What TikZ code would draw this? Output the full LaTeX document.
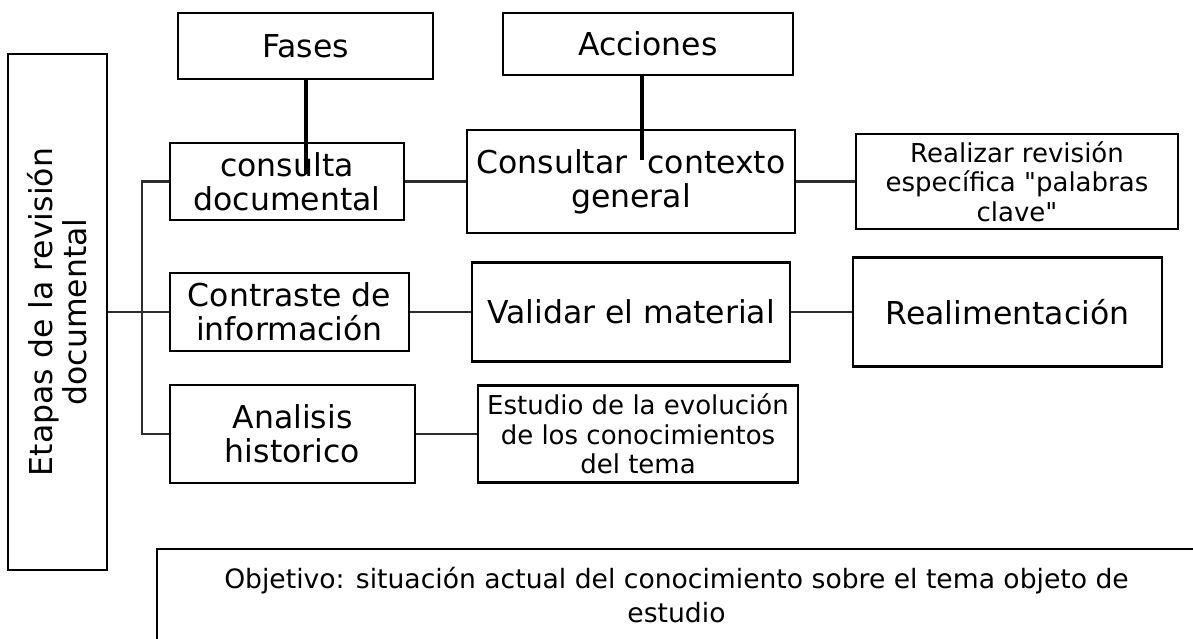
\documentclass[tikz,border=0pt]{standalone}
\usepackage{fontspec}
\setmainfont{DejaVu Sans}
\usepackage{tikz}
\usetikzlibrary{positioning}
\definecolor{BoxBlack}{RGB}{0, 0, 0}
\definecolor{LinkGray}{RGB}{45, 45, 45}

\begin{document}
\begin{tikzpicture}[x=1pt, y=-1pt,
    mainbox/.style={rectangle, draw=BoxBlack, line width=2.6pt, align=center, inner sep=2pt, font=\fontsize{31.5}{34}\selectfont},
    smallbox/.style={mainbox, font=\fontsize{26}{29.5}\selectfont},
    link/.style={draw=LinkGray, line width=2.2pt},
    stem/.style={draw=BoxBlack, line width=4pt}
]
\useasboundingbox (0,0) rectangle (1193,638);
\clip (0,0) rectangle (1193,638);

% Stages
\node[mainbox, rotate=90, minimum width=516pt, minimum height=99pt] (etapas) at (57.5,312) {Etapas de la revisi\'on\\documental};

% Headers
\node[mainbox, minimum width=255pt, minimum height=66pt] (fases) at (305.5,46) {Fases};
\node[mainbox, minimum width=290pt, minimum height=62pt] (acciones) at (648,44) {Acciones};

% Phases
\node[mainbox, minimum width=234pt, minimum height=77pt] (consulta) at (287,181.5) {consulta\\documental};
\node[mainbox, minimum width=239pt, minimum height=78pt] (contraste) at (289.5,312) {Contraste de\\informaci\'on};
\node[mainbox, minimum width=245pt, minimum height=98pt] (analisis) at (292.5,434) {Analisis\\historico};

% Actions
\node[mainbox, minimum width=328pt, minimum height=103pt] (consultar) at (631,181.5) {Consultar~~contexto\\general};
\node[smallbox, minimum width=322pt, minimum height=95pt] (realizar) at (1017,181.5) {Realizar revisi\'on\\espec\'ifica \textquotedbl palabras\\clave\textquotedbl};
\node[mainbox, minimum width=318pt, minimum height=99pt] (validar) at (631,312) {Validar el material};
\node[mainbox, minimum width=309pt, minimum height=109pt] (realim) at (1007.5,312) {Realimentaci\'on};
\node[smallbox, minimum width=320pt, minimum height=97pt] (estudio) at (638,434) {Estudio de la evoluci\'on\\de los conocimientos\\del tema};

% Goal
\node[mainbox, font=\fontsize{26.6}{34}\selectfont, minimum width=1039pt, minimum height=92pt] (objetivo) at (676.5,595) {Objetivo: situaci\'on actual del conocimiento sobre el tema objeto de\\estudio};

% Tree
\coordinate (tronco) at (142,312);
\draw[link] (etapas.south) -- (tronco);
\draw[link] (consulta.west) -| (tronco) |- (analisis.west);
\draw[link] (tronco) -- (contraste.west);
\draw[link] (consulta) -- (consultar);
\draw[link] (consultar) -- (realizar);
\draw[link] (contraste) -- (validar);
\draw[link] (validar) -- (realim);
\draw[link] (analisis) -- (estudio);

% Header stems
\coordinate (finfases) at (305.5,174);
\coordinate (finacc) at (642,160);
\draw[stem] (fases.south) -- (finfases);
\draw[stem] (finacc |- acciones.south) -- (finacc);

\end{tikzpicture}
\end{document}
